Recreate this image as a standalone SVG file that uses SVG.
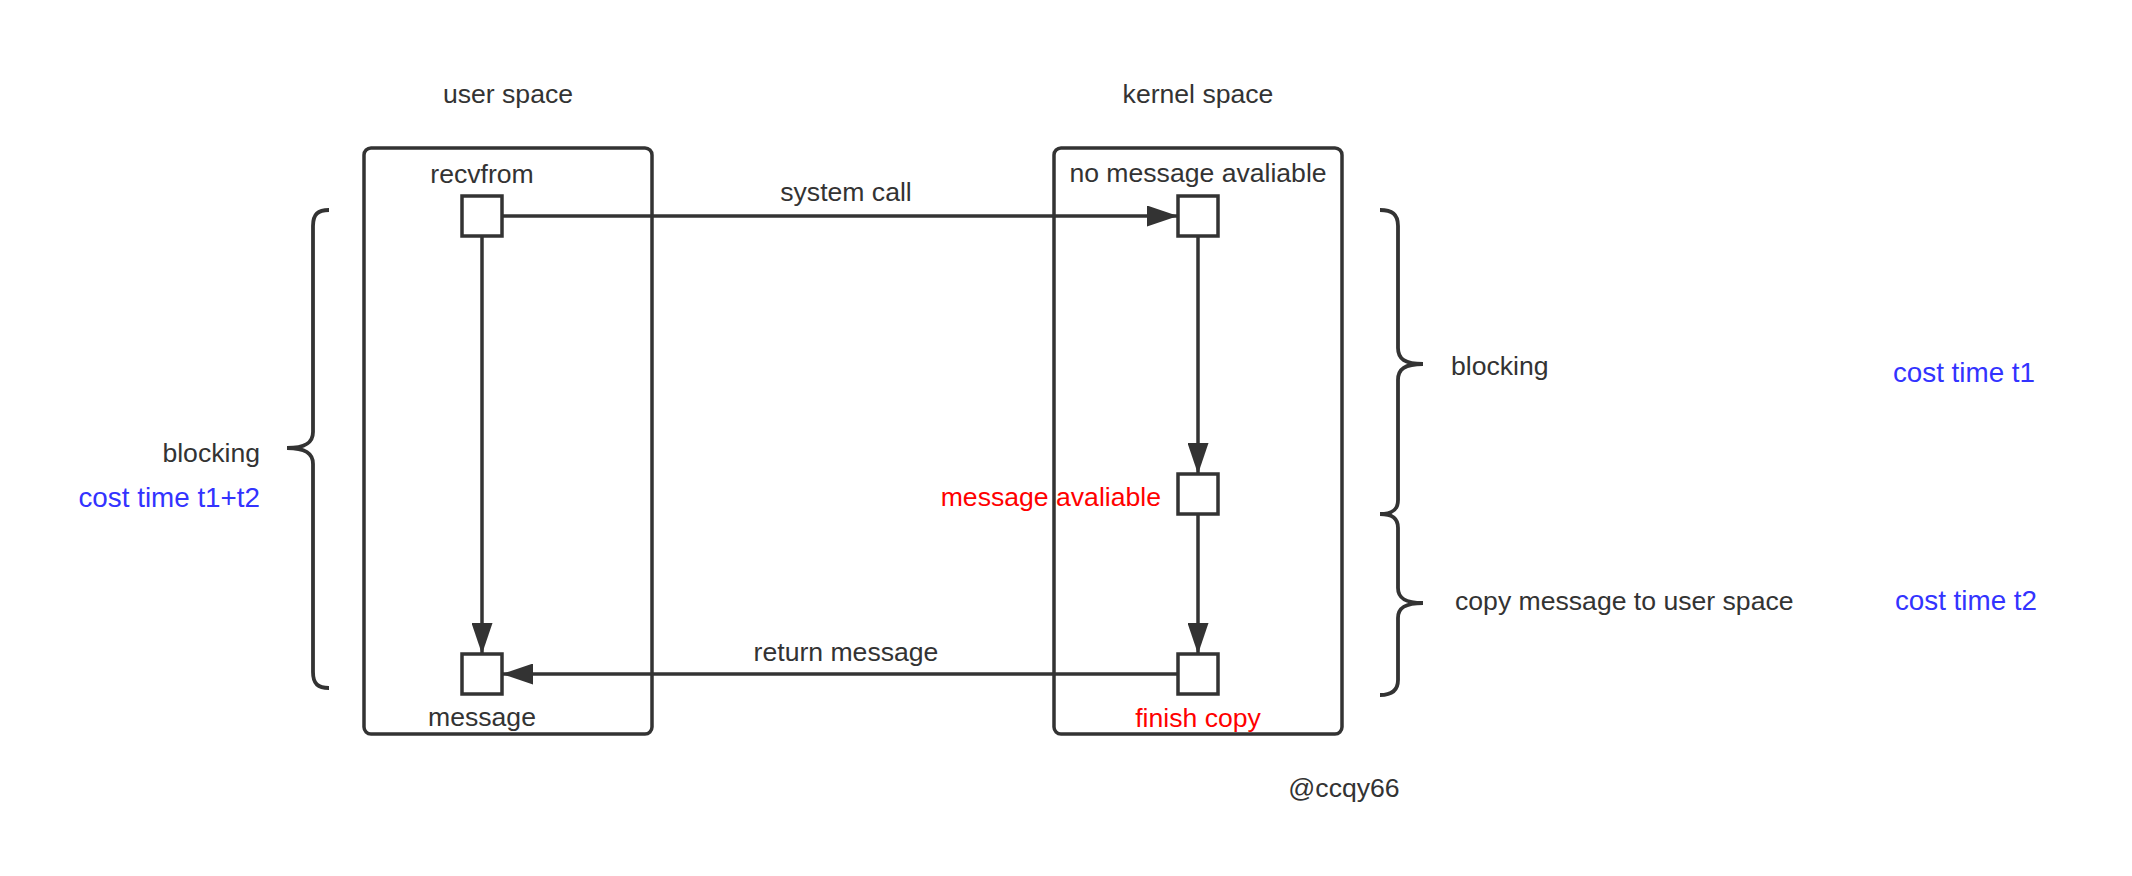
<svg xmlns="http://www.w3.org/2000/svg" width="2132" height="876" viewBox="0 0 2132 876">
<defs>
<style>
text{font-family:"Liberation Sans",Arial,sans-serif;font-size:26.6px;fill:#333333}
.c{text-anchor:middle}
.e{text-anchor:end}
.red{fill:#FF0000}
.blue{fill:#3333FF;font-size:27.8px}
.box{fill:none;stroke:#333333;stroke-width:3.5}
.sq{fill:#FFFFFF;stroke:#333333;stroke-width:3.5}
.ln{fill:none;stroke:#333333;stroke-width:3.5}
.br{fill:none;stroke:#333333;stroke-width:3.8;stroke-linecap:butt}
</style>
<marker id="ah" viewBox="0 0 31 21" refX="31" refY="10.5" markerWidth="31" markerHeight="21" markerUnits="userSpaceOnUse" orient="auto">
<path d="M0,0 L31,10.5 L0,21 Z" fill="#333333"/>
</marker>
</defs>
<rect width="2132" height="876" fill="#FFFFFF"/>

<g id="user-space">
<text class="c" x="508" y="103">user space</text>
<rect class="box" x="364" y="148" width="288" height="586" rx="7"/>
</g>
<g id="kernel-space">
<text class="c" x="1198" y="103">kernel space</text>
<rect class="box" x="1054" y="148" width="288" height="586" rx="7"/>
</g>

<g id="connectors">
<line class="ln" x1="502" y1="216" x2="1178" y2="216" marker-end="url(#ah)"/>
<line class="ln" x1="482" y1="236" x2="482" y2="654" marker-end="url(#ah)"/>
<line class="ln" x1="1198" y1="236" x2="1198" y2="474" marker-end="url(#ah)"/>
<line class="ln" x1="1198" y1="514" x2="1198" y2="654" marker-end="url(#ah)"/>
<line class="ln" x1="1178" y1="674" x2="502" y2="674" marker-end="url(#ah)"/>
<text class="c" x="846" y="201">system call</text>
<text class="c" x="846" y="661">return message</text>
</g>

<g id="recvfrom">
<rect class="sq" x="462" y="196" width="40" height="40"/>
<text class="c" x="482" y="183">recvfrom</text>
</g>
<g id="message">
<rect class="sq" x="462" y="654" width="40" height="40"/>
<text class="c" x="482" y="726">message</text>
</g>
<g id="no-message">
<rect class="sq" x="1178" y="196" width="40" height="40"/>
<text class="c" x="1198" y="182">no message avaliable</text>
</g>
<g id="message-avaliable">
<rect class="sq" x="1178" y="474" width="40" height="40"/>
<text class="e red" x="1161" y="506">message avaliable</text>
</g>
<g id="finish-copy">
<rect class="sq" x="1178" y="654" width="40" height="40"/>
<text class="c red" x="1198" y="727">finish copy</text>
</g>

<g id="left-brace">
<path class="br" d="M329,210 C318,210 313,214 313,226 L313,432 C313,443 305,448 287,448 C305,448 313,453 313,464 L313,672 C313,684 318,688 329,688"/>
<text class="e" x="260" y="462">blocking</text>
<text class="e blue" x="260" y="507">cost time t1+t2</text>
</g>

<g id="right-brace-blocking">
<path class="br" d="M1380,210 C1392,210 1398,214 1398,226 L1398,348 C1398,359 1405,364 1423,364 C1405,364 1398,369 1398,380 L1398,500 C1398,510 1392,514 1380,514"/>
<text x="1451" y="375">blocking</text>
<text class="e blue" x="2035" y="382">cost time t1</text>
</g>

<g id="right-brace-copy">
<path class="br" d="M1380,514 C1392,514 1398,518 1398,528 L1398,588 C1398,598 1405,603 1423,603 C1405,603 1398,608 1398,618 L1398,680 C1398,690 1392,695 1380,695"/>
<text x="1455" y="610">copy message to user space</text>
<text class="e blue" x="2037" y="610">cost time t2</text>
</g>

<g id="watermark">
<text class="c" x="1344" y="797">@ccqy66</text>
</g>
</svg>
